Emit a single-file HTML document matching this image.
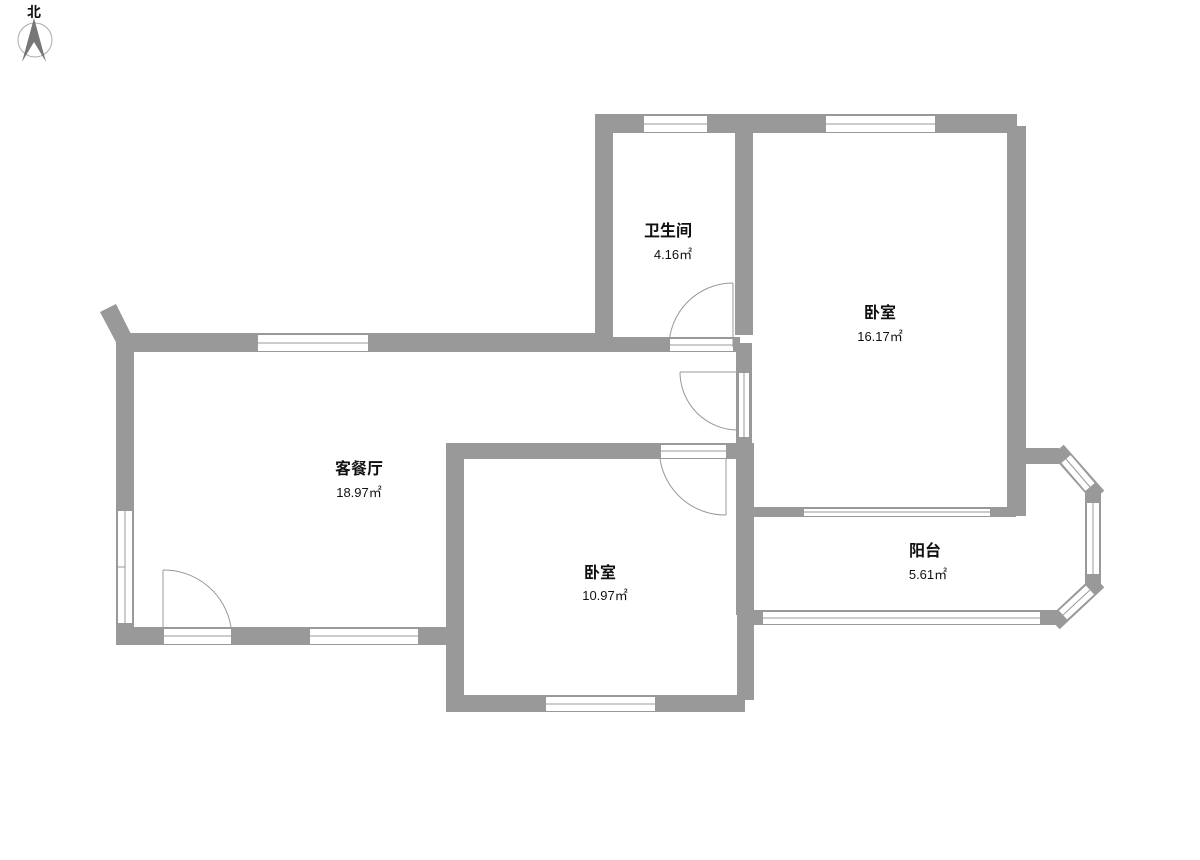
<!DOCTYPE html>
<html><head><meta charset="utf-8"><style>
html,body{margin:0;padding:0;background:#fff;}
svg{display:block}
text{font-family:"Liberation Sans","Noto Sans CJK SC",sans-serif;fill:#111;text-anchor:middle}
</style></head><body>
<svg width="1200" height="860" viewBox="0 0 1200 860" xmlns="http://www.w3.org/2000/svg">
<g fill="#999">
<!-- compass -->
<circle cx="35" cy="40" r="17" fill="none" stroke="#aaa" stroke-width="1"/>
<polygon points="34,18 22,62 34,42 46,62" fill="#777"/>
<!-- bathroom -->
<rect x="595" y="114" width="18" height="238"/>
<rect x="595" y="114" width="422" height="19"/>
<rect x="735" y="114" width="18" height="221"/>
<rect x="590" y="337" width="150" height="15"/>
<rect x="1007" y="126" width="19" height="390"/>
<!-- living -->
<polygon points="100,312 116,304 132,336 118,346"/>
<rect x="116" y="333" width="490" height="19"/>
<rect x="116" y="333" width="18" height="312"/>
<rect x="116" y="627" width="330" height="18"/>
<!-- partition -->
<rect x="736" y="343" width="16" height="272"/>
<!-- bedroom2 -->
<rect x="446" y="443" width="306" height="16"/>
<rect x="446" y="443" width="18" height="269"/>
<rect x="455" y="695" width="290" height="17"/>
<rect x="737" y="443" width="17" height="257"/>
<!-- bedroom bottom -->
<rect x="736" y="507" width="280" height="10"/>
<!-- balcony -->
<rect x="1025" y="448" width="34" height="16"/>
<rect x="740" y="610" width="318" height="15"/>
</g>
<g stroke="#999" stroke-width="16" stroke-linecap="square" fill="none">
<line x1="1063" y1="456" x2="1093" y2="490"/>
<line x1="1093" y1="500" x2="1093" y2="577"/>
<line x1="1093" y1="587" x2="1060" y2="618"/>
</g>
<g stroke="#fff" stroke-width="12" fill="none">
<line x1="1066" y1="459" x2="1090" y2="487"/>
<line x1="1093" y1="503" x2="1093" y2="574"/>
<line x1="1090" y1="590" x2="1063" y2="615"/>
</g>
<g stroke="#999" stroke-width="1" fill="none">
<line x1="1066" y1="459" x2="1090" y2="487"/>
<line x1="1093" y1="503" x2="1093" y2="574"/>
<line x1="1090" y1="590" x2="1063" y2="615"/>
</g>
<text x="34" y="17" font-size="14" font-weight="bold">北</text>
<!-- windows -->
<g fill="#fff" stroke="#999" stroke-width="1">
<rect x="643.5" y="115.5" width="64" height="17"/><line x1="643" y1="124" x2="708" y2="124"/>
<rect x="825.5" y="115.5" width="110" height="17"/><line x1="825" y1="124" x2="936" y2="124"/>
<rect x="257.5" y="334.5" width="111" height="17"/><line x1="257" y1="343" x2="369" y2="343"/>
<rect x="117.5" y="510.5" width="15" height="113"/><line x1="125" y1="510" x2="125" y2="624"/><line x1="117" y1="567" x2="125" y2="567"/>
<rect x="163.5" y="628.5" width="68" height="16"/><line x1="163" y1="636" x2="232" y2="636"/>
<rect x="309.5" y="628.5" width="109" height="16"/><line x1="309" y1="636" x2="419" y2="636"/>
<rect x="669.5" y="338.5" width="64" height="13"/><line x1="669" y1="345" x2="734" y2="345"/>
<rect x="738.5" y="372.5" width="11" height="65"/><line x1="744" y1="372" x2="744" y2="438"/>
<rect x="660.5" y="444.5" width="66" height="14"/><line x1="660" y1="451" x2="727" y2="451"/>
<rect x="545.5" y="696.5" width="110" height="15"/><line x1="545" y1="704" x2="656" y2="704"/>
<rect x="803.5" y="508.5" width="187" height="8"/><line x1="803" y1="512" x2="991" y2="512"/>
<rect x="762.5" y="611.5" width="278" height="13"/><line x1="762" y1="618" x2="1041" y2="618"/>
</g>
<!-- door arcs -->
<g fill="none" stroke="#999" stroke-width="1">
<path d="M733,283 A64,64 0 0 0 669,347"/><line x1="733" y1="283" x2="733" y2="347"/>
<path d="M680,372 A58,58 0 0 0 738,430"/><line x1="680" y1="372" x2="738" y2="372"/>
<path d="M660,459 A66,66 0 0 0 726,515"/><line x1="726" y1="459" x2="726" y2="515"/>
<path d="M163,570 A68,68 0 0 1 231,627"/><line x1="163" y1="570" x2="163" y2="627"/>
</g>
<!-- labels -->
<g font-size="16" font-weight="bold">
<text x="668" y="236">卫生间</text>
<text x="880" y="318">卧室</text>
<text x="359" y="474">客餐厅</text>
<text x="600" y="578">卧室</text>
<text x="925" y="556">阳台</text>
</g>
<g font-size="13">
<text x="673" y="259">4.16㎡</text>
<text x="880" y="341">16.17㎡</text>
<text x="359" y="497">18.97㎡</text>
<text x="605" y="600">10.97㎡</text>
<text x="928" y="579">5.61㎡</text>
</g>
</svg>
</body></html>
